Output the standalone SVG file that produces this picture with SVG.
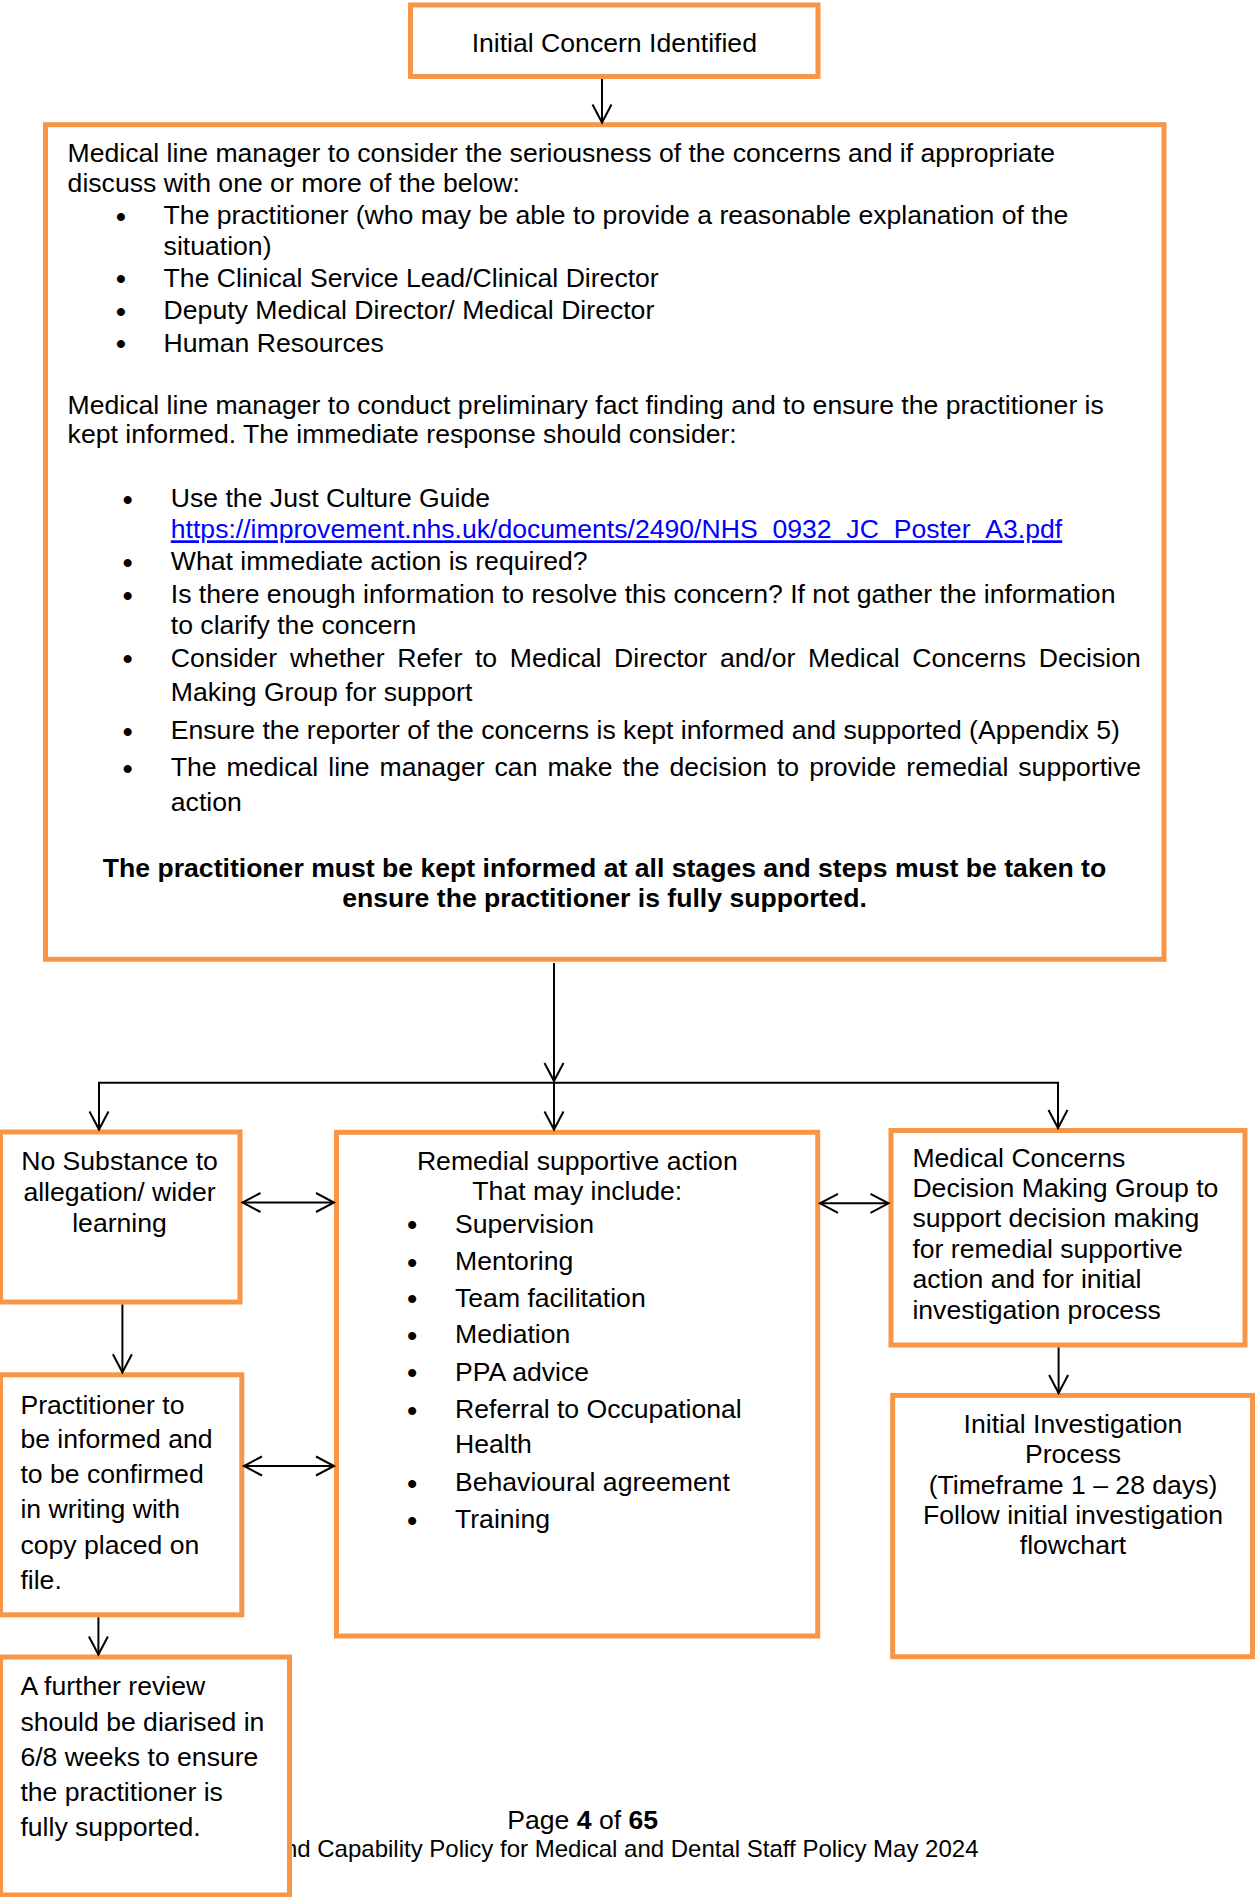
<svg xmlns="http://www.w3.org/2000/svg" width="1255" height="1897" viewBox="0 0 1255 1897">
<style>
.box{fill:#fff;stroke:#F79646;stroke-width:5}
text{font-family:"Liberation Sans",Arial,sans-serif;font-size:26.6px;fill:#000}
.c{text-anchor:middle}
.b{font-weight:bold}
.bu{text-anchor:middle;font-size:28px;font-weight:bold}
.link{fill:#0000FF;text-decoration:underline}
.conn{fill:none;stroke:#000;stroke-width:2}
.foot2{font-size:24px;text-anchor:end}
</style>
<defs>
<marker id="arr" markerUnits="userSpaceOnUse" markerWidth="24" markerHeight="24" viewBox="-20 -12 24 24" refX="0" refY="0" orient="auto-start-reverse" overflow="visible">
<path d="M-18,-9.5 L0,0 L-18,9.5" fill="none" stroke="#000" stroke-width="2"/>
</marker>
</defs>
<rect width="1255" height="1897" fill="#fff"/>

<g id="footer">
<text x="507.3" y="1828.5">Page <tspan class="b">4</tspan> of <tspan class="b">65</tspan></text>
<text class="foot2" x="978.5" y="1857">nd Capability Policy for Medical and Dental Staff Policy May 2024</text>
</g>

<g id="n-initial">
<rect class="box" x="410.5" y="5" width="407.5" height="71.5"/>
<text class="c" x="614.3" y="51.7">Initial Concern Identified</text>
</g>

<g id="n-manager">
<rect class="box" x="45.5" y="124.7" width="1118.5" height="834.6"/>
<text x="67.6" y="161.7">Medical line manager to consider the seriousness of the concerns and if appropriate</text>
<text x="67.6" y="191.7">discuss with one or more of the below:</text>
<text class="bu" x="121" y="225.8">•</text>
<text x="163.6" y="224.3">The practitioner (who may be able to provide a reasonable explanation of the</text>
<text x="163.6" y="255">situation)</text>
<text class="bu" x="121" y="288.2">•</text>
<text x="163.6" y="286.7">The Clinical Service Lead/Clinical Director</text>
<text class="bu" x="121" y="320.8">•</text>
<text x="163.6" y="319.3">Deputy Medical Director/ Medical Director</text>
<text class="bu" x="121" y="353.2">•</text>
<text x="163.6" y="351.7">Human Resources</text>
<text x="67.6" y="414">Medical line manager to conduct preliminary fact finding and to ensure the practitioner is</text>
<text x="67.6" y="443.3">kept informed. The immediate response should consider:</text>
<text class="bu" x="127.7" y="508.8">•</text>
<text x="170.8" y="507.3">Use the Just Culture Guide</text>
<text class="link" x="170.8" y="538.3">https://improvement.nhs.uk/documents/2490/NHS_0932_JC_Poster_A3.pdf</text>
<text class="bu" x="127.7" y="571.5">•</text>
<text x="170.8" y="570">What immediate action is required?</text>
<text class="bu" x="127.7" y="604.8">•</text>
<text x="170.8" y="603.3">Is there enough information to resolve this concern? If not gather the information</text>
<text x="170.8" y="634.3">to clarify the concern</text>
<text class="bu" x="127.7" y="668.2">•</text>
<text x="170.8" y="666.7" word-spacing="5.3">Consider whether Refer to Medical Director and/or Medical Concerns Decision</text>
<text x="170.8" y="701">Making Group for support</text>
<text class="bu" x="127.7" y="740.8">•</text>
<text x="170.8" y="739.3">Ensure the reporter of the concerns is kept informed and supported (Appendix 5)</text>
<text class="bu" x="127.7" y="777.5">•</text>
<text x="170.8" y="776" word-spacing="2.6">The medical line manager can make the decision to provide remedial supportive</text>
<text x="170.8" y="811">action</text>
<text class="c b" x="604.5" y="877.3">The practitioner must be kept informed at all stages and steps must be taken to</text>
<text class="c b" x="604.5" y="907.3">ensure the practitioner is fully supported.</text>
</g>

<g id="n-nosubstance">
<rect class="box" x="0.5" y="1132" width="239.5" height="170"/>
<text class="c" x="119.5" y="1170">No Substance to</text>
<text class="c" x="119.5" y="1200.5">allegation/ wider</text>
<text class="c" x="119.5" y="1231.7">learning</text>
</g>

<g id="n-remedial">
<rect class="box" x="336.5" y="1132.3" width="481.2" height="503.7"/>
<text class="c" x="577.3" y="1170">Remedial supportive action</text>
<text class="c" x="577.3" y="1200">That may include:</text>
<text class="bu" x="412.2" y="1234.2">•</text><text x="455" y="1232.7">Supervision</text>
<text class="bu" x="412.2" y="1271.5">•</text><text x="455" y="1270">Mentoring</text>
<text class="bu" x="412.2" y="1308.2">•</text><text x="455" y="1306.7">Team facilitation</text>
<text class="bu" x="412.2" y="1344.8">•</text><text x="455" y="1343.3">Mediation</text>
<text class="bu" x="412.2" y="1382.4">•</text><text x="455" y="1380.9">PPA advice</text>
<text class="bu" x="412.2" y="1419.5">•</text><text x="455" y="1418">Referral to Occupational</text>
<text x="455" y="1453">Health</text>
<text class="bu" x="412.2" y="1492.5">•</text><text x="455" y="1491">Behavioural agreement</text>
<text class="bu" x="412.2" y="1529.5">•</text><text x="455" y="1528">Training</text>
</g>

<g id="n-mcdmg">
<rect class="box" x="891" y="1130.5" width="354" height="214.5"/>
<text x="912.4" y="1167.3">Medical Concerns</text>
<text x="912.4" y="1197.3">Decision Making Group to</text>
<text x="912.4" y="1227.3">support decision making</text>
<text x="912.4" y="1258.3">for remedial supportive</text>
<text x="912.4" y="1288.3">action and for initial</text>
<text x="912.4" y="1319.3">investigation process</text>
</g>

<g id="n-investigation">
<rect class="box" x="892.7" y="1395.4" width="359.8" height="261.3"/>
<text class="c" x="1073" y="1433">Initial Investigation</text>
<text class="c" x="1073" y="1462.6">Process</text>
<text class="c" x="1073" y="1493.5">(Timeframe 1 – 28 days)</text>
<text class="c" x="1073" y="1524">Follow initial investigation</text>
<text class="c" x="1073" y="1554.2">flowchart</text>
</g>

<g id="n-practitioner">
<rect class="box" x="0.5" y="1374.8" width="241.3" height="240"/>
<text x="20.4" y="1413.5">Practitioner to</text>
<text x="20.4" y="1447.6">be informed and</text>
<text x="20.4" y="1483">to be confirmed</text>
<text x="20.4" y="1517.6">in writing with</text>
<text x="20.4" y="1554.2">copy placed on</text>
<text x="20.4" y="1588.7">file.</text>
</g>

<g id="n-review">
<rect class="box" x="0.5" y="1657" width="289" height="238"/>
<text x="20.4" y="1695">A further review</text>
<text x="20.4" y="1730.8">should be diarised in</text>
<text x="20.4" y="1765.6">6/8 weeks to ensure</text>
<text x="20.4" y="1801">the practitioner is</text>
<text x="20.4" y="1836">fully supported.</text>
</g>

<g id="connectors">
<line class="conn" x1="602" y1="79" x2="602" y2="122.5" marker-end="url(#arr)"/>
<line class="conn" x1="554" y1="963" x2="554" y2="1081" marker-end="url(#arr)"/>
<polyline class="conn" points="99,1130 99,1082.7 1058,1082.7 1058,1128"/>
<line class="conn" x1="99" y1="1082.7" x2="99" y2="1129.5" marker-end="url(#arr)"/>
<line class="conn" x1="554" y1="1082.7" x2="554" y2="1129.5" marker-end="url(#arr)"/>
<line class="conn" x1="1058" y1="1082.7" x2="1058" y2="1128" marker-end="url(#arr)"/>
<line class="conn" x1="242.5" y1="1202.5" x2="334" y2="1202.5" marker-start="url(#arr)" marker-end="url(#arr)"/>
<line class="conn" x1="820" y1="1203.3" x2="888.5" y2="1203.3" marker-start="url(#arr)" marker-end="url(#arr)"/>
<line class="conn" x1="122.4" y1="1304.5" x2="122.4" y2="1372.3" marker-end="url(#arr)"/>
<line class="conn" x1="244" y1="1466" x2="334" y2="1466" marker-start="url(#arr)" marker-end="url(#arr)"/>
<line class="conn" x1="98.4" y1="1617.3" x2="98.4" y2="1654.5" marker-end="url(#arr)"/>
<line class="conn" x1="1058.6" y1="1347.5" x2="1058.6" y2="1393" marker-end="url(#arr)"/>
</g>
</svg>
